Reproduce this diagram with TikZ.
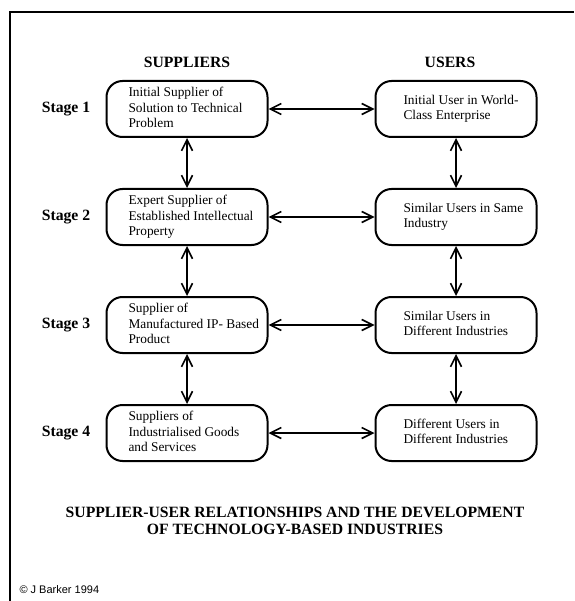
\documentclass[tikz,border=0pt]{standalone}
\usepackage{fontspec}
\setmainfont{Liberation Serif}
\newfontfamily\arialfont{Liberation Sans}
\usetikzlibrary{arrows.meta}

\newcommand{\boxlines}[2]{\makebox[161pt][l]{\hspace*{#1}\begin{tabular}{@{}l@{}}#2\end{tabular}}}

\begin{document}
\begin{tikzpicture}[x=1pt, y=-1pt,
    stagebox/.style={draw, line width=2pt, rounded corners=16pt, minimum height=56pt, inner xsep=0pt, inner ysep=2pt, font=\fontsize{13.35}{15.5}\selectfont},
    stagelabel/.style={font=\fontsize{15.7}{18}\selectfont\bfseries},
    header/.style={font=\fontsize{15.7}{17}\selectfont\bfseries, align=center},
    link/.style={line width=1.6pt, {Straight Barb[length=11pt,width=11pt]}-{Straight Barb[length=11pt,width=11pt]}}]
        \useasboundingbox (0,0) rectangle (574,601);

        % Frame
        \draw[line width=2pt] (9.5,601) -- (9.5,12) -- (574,12);

        % Column headers
        \node[header] (hsup) at (187,62) {SUPPLIERS};
        \node[header] (huse) at (450,62) {USERS};

        % Stages
        \node[stagelabel] (st1) at (66,109) {Stage 1};
        \node[stagelabel] (st2) at (66,217) {Stage 2};
        \node[stagelabel] (st3) at (66,325) {Stage 3};
        \node[stagelabel] (st4) at (66,433) {Stage 4};

        % Suppliers column
        \node[stagebox] (s1) at (187,109) {\boxlines{22pt}{Initial Supplier of\\Solution to Technical\\Problem}};
        \node[stagebox] (s2) at (187,217) {\boxlines{22pt}{Expert Supplier of\\Established Intellectual\\Property}};
        \node[stagebox] (s3) at (187,325) {\boxlines{22pt}{Supplier of\\Manufactured IP- Based\\Product}};
        \node[stagebox] (s4) at (187,433) {\boxlines{22pt}{Suppliers of\\Industrialised Goods\\and Services}};

        % Users column
        \node[stagebox] (u1) at (456,109) {\boxlines{28pt}{Initial User in World-\\Class Enterprise}};
        \node[stagebox] (u2) at (456,217) {\boxlines{28pt}{Similar Users in Same\\Industry}};
        \node[stagebox] (u3) at (456,325) {\boxlines{28pt}{Similar Users in\\Different Industries}};
        \node[stagebox] (u4) at (456,433) {\boxlines{28pt}{Different Users in\\Different Industries}};

        % Links between stages
        \draw[link] (s1) -- (s2);
        \draw[link] (s2) -- (s3);
        \draw[link] (s3) -- (s4);
        \draw[link] (u1) -- (u2);
        \draw[link] (u2) -- (u3);
        \draw[link] (u3) -- (u4);

        % Links between suppliers and users
        \draw[link] (s1) -- (u1);
        \draw[link] (s2) -- (u2);
        \draw[link] (s3) -- (u3);
        \draw[link] (s4) -- (u4);

        % Title
        \node[header] (title) at (295,520.5) {SUPPLIER-USER RELATIONSHIPS AND THE DEVELOPMENT\\OF TECHNOLOGY-BASED INDUSTRIES};

        \node[anchor=west, font=\arialfont\fontsize{11}{13}\selectfont] (copy) at (16,590) {\textcopyright{} J Barker 1994};
    \end{tikzpicture}
\end{document}
